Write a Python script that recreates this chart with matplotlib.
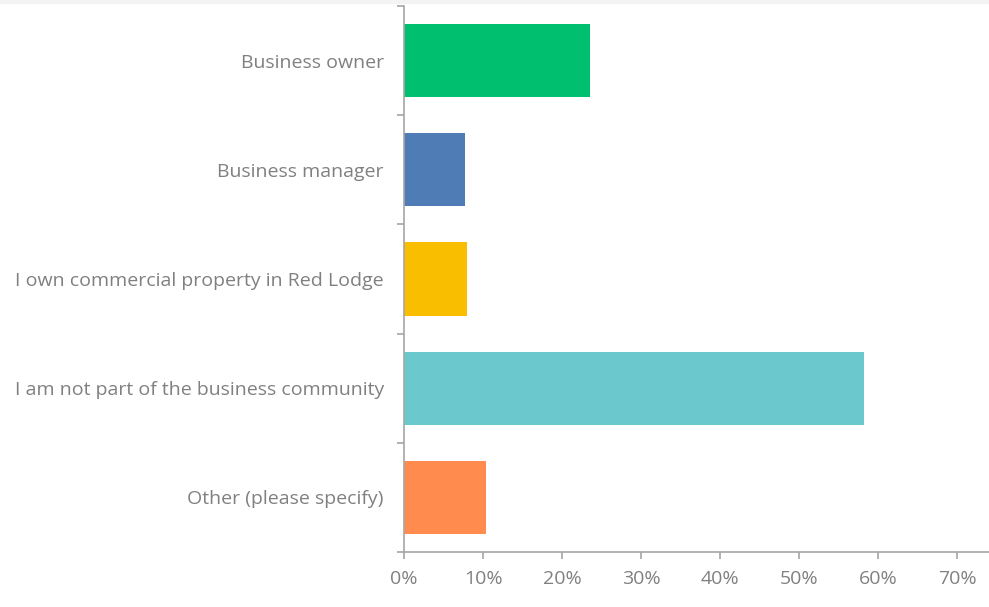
import numpy as np
import matplotlib.pyplot as plt
from matplotlib.ticker import FuncFormatter, FixedLocator

# survey answers, top to bottom
categories = ['Business owner', 'Business manager', 'I own commercial property in Red Lodge',
              'I am not part of the business community', 'Other (please specify)']
# percentage of respondents
values = [23.5, 7.7, 8.0, 58.2, 10.4]
colors = ['#00BF6F', '#507CB6', '#F9BE00', '#6BC8CD', '#FF8B4F']
xticks = [0, 10, 20, 30, 40, 50, 60, 70]

plt.rcParams['font.family'] = ['Open Sans', 'DejaVu Sans']
text_col = '#808080'
axis_col = '#a6a6a6'

fig = plt.figure(figsize=(9.89, 6.07), dpi=100)
ax = fig.add_axes([404/989, 1 - 552/607, 1 - 404/989, 546/607])

# thin grey strip at the very top of the image
fig.patches.append(plt.Rectangle((0, 1 - 3/607), 1, 3/607, transform=fig.transFigure,
                                 color='#f3f3f3', zorder=0))

y = np.arange(len(categories))
ax.barh(y, values, height=0.67, color=colors, edgecolor='none')

ax.set_ylim(len(categories) - 0.5, -0.5)
ax.set_xlim(0, (989 - 404) / 7.9)

for s in ['top', 'right']:
    ax.spines[s].set_visible(False)
for s in ['left', 'bottom']:
    ax.spines[s].set_color(axis_col)
    ax.spines[s].set_linewidth(1.2)

ax.set_yticks(y)
ax.set_yticklabels(categories)
ax.yaxis.set_minor_locator(FixedLocator(np.arange(-0.5, len(categories), 1.0)))
ax.tick_params(axis='y', which='major', length=0, pad=14.5, labelsize=14, labelcolor=text_col)
ax.tick_params(axis='y', which='minor', length=5, width=1.2, color=axis_col)

ax.set_xticks(xticks)
ax.xaxis.set_major_formatter(FuncFormatter(lambda v, p: f'{v:.0f}%'))
ax.tick_params(axis='x', length=5, width=1.2, color=axis_col, pad=8, labelsize=14,
               labelcolor=text_col)

fig.savefig('out.png', dpi=100)
